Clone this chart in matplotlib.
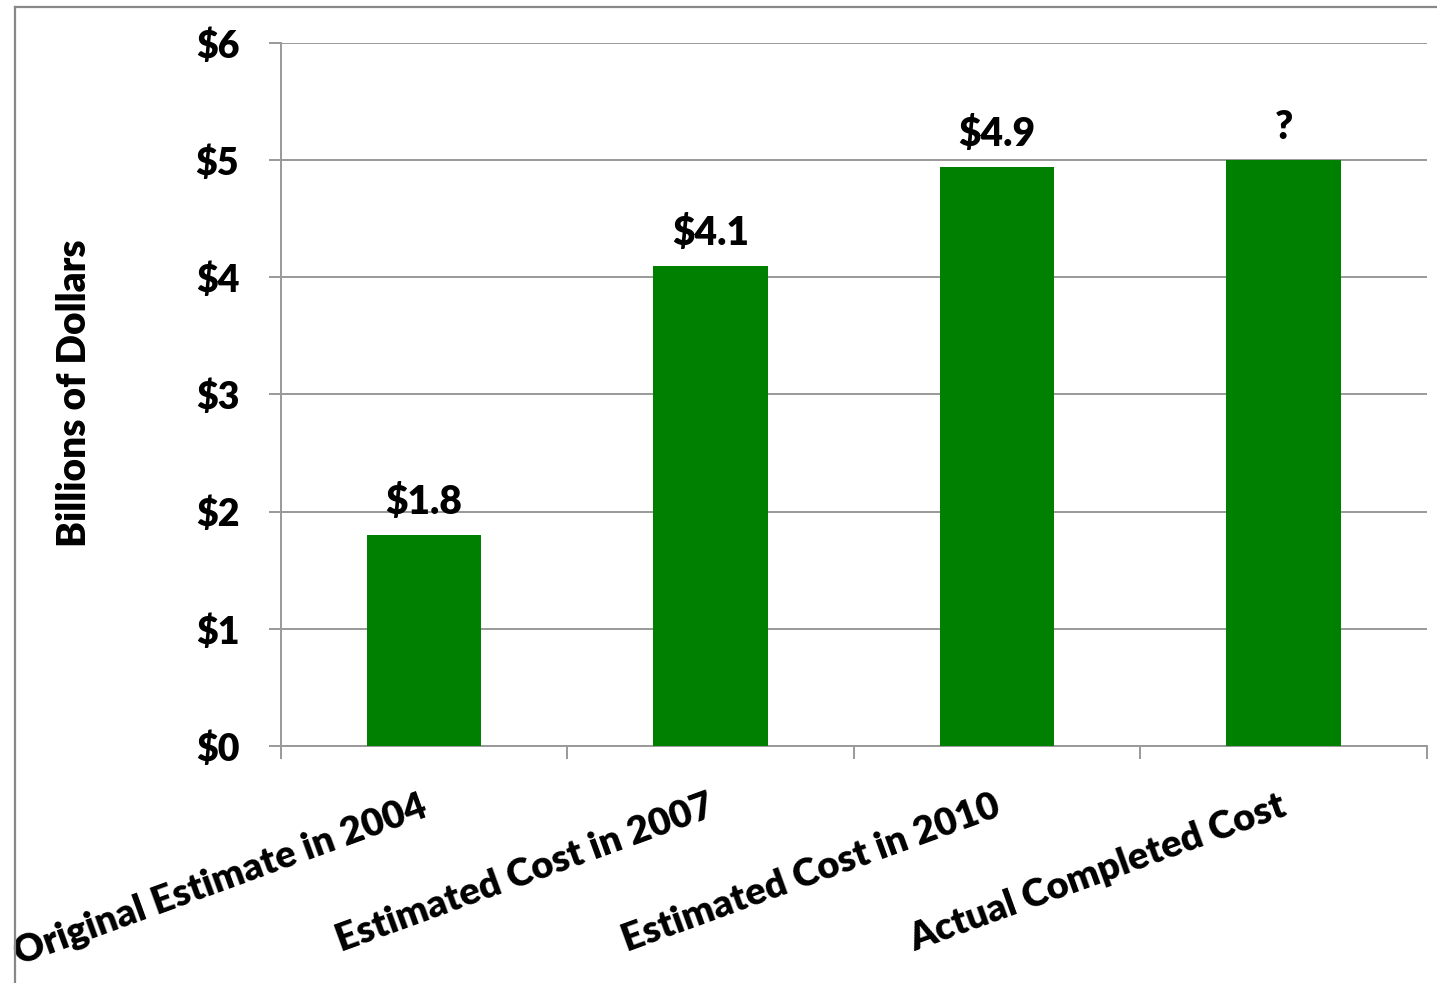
import matplotlib
matplotlib.use("Agg")
import matplotlib.pyplot as plt
from matplotlib.lines import Line2D

categories = ["Original Estimate in 2004", "Estimated Cost in 2007",
              "Estimated Cost in 2010", "Actual Completed Cost"]
values = [1.8, 4.1, 4.94, 5.0]
value_labels = ["$1.8", "$4.1", "$4.9", "?"]
y_ticks = [0, 1, 2, 3, 4, 5, 6]
y_tick_labels = ["$0", "$1", "$2", "$3", "$4", "$5", "$6"]

plt.rcParams["font.family"] = ["Lato", "DejaVu Sans"]
plt.rcParams["font.weight"] = "heavy"
W = "heavy"

GRID = "#999999"
GREEN = "#008000"

fig = plt.figure(figsize=(14.37, 9.83), dpi=100)
ax = fig.add_axes([0.1955, 0.2411, 0.7975, 0.7152])

x = list(range(len(categories)))
ax.bar(x, values, width=0.40, color=GREEN, zorder=3)

ax.set_xlim(-0.5, len(categories) - 0.5)
ax.set_ylim(0, 6)

ax.set_yticks(y_ticks)
ax.set_yticklabels(y_tick_labels, fontsize=27, fontweight=W)
ax.tick_params(axis="y", direction="out", length=9, width=1.4, color=GRID, pad=21)
ax.yaxis.grid(True, color=GRID, linewidth=1.4, zorder=0)

# Category boundaries carry the x tick marks; names are drawn rotated below
ax.set_xticks([i - 0.5 for i in range(len(categories) + 1)])
ax.set_xticklabels([])
ax.tick_params(axis="x", direction="out", length=9, width=1.4, color=GRID)

for side in ["top", "right"]:
    ax.spines[side].set_visible(False)
for side in ["left", "bottom"]:
    ax.spines[side].set_color(GRID)
    ax.spines[side].set_linewidth(1.4)

for i, name in enumerate(categories):
    ax.annotate(name, xy=(i, 0), xycoords=("data", "axes fraction"),
                xytext=(-3, -31), textcoords="offset points",
                ha="right", va="top", rotation=20, rotation_mode="anchor",
                fontsize=27.5, fontweight=W)

for i, (v, lab) in enumerate(zip(values, value_labels)):
    ax.annotate(lab, xy=(i, v), xytext=(0, 10), textcoords="offset points",
                ha="center", va="bottom", fontsize=28, fontweight=W)

fig.text(75 / 1437, 1 - 393 / 983, "Billions of Dollars", rotation=90,
         ha="center", va="center", fontsize=28, fontweight=W)

# Frame around the chart area
fig.add_artist(Line2D([15 / 1437, 1.0], [1 - 7 / 983, 1 - 7 / 983],
                      color="#888888", linewidth=1.6, transform=fig.transFigure))
fig.add_artist(Line2D([15 / 1437, 15 / 1437], [1 - 7 / 983, 0.0],
                      color="#888888", linewidth=1.6, transform=fig.transFigure))

fig.savefig("out.png", dpi=100)
